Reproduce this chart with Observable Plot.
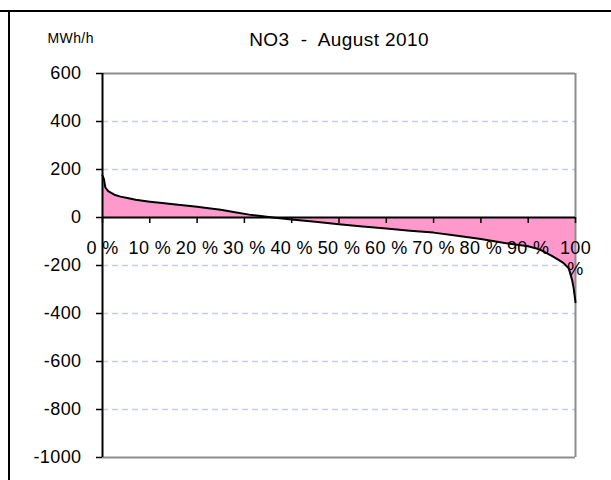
<!DOCTYPE html>
<html>
<head>
<meta charset="utf-8">
<script src="https://cdn.jsdelivr.net/npm/d3@7"></script>
<script src="https://cdn.jsdelivr.net/npm/@observablehq/plot@0.6"></script>
<style>
  html, body { margin: 0; padding: 0; background: #fff; }
  #wrap { position: relative; width: 611px; height: 480px; overflow: hidden; }
  #wrap svg { position: absolute; left: 0; top: 0; }
  #wrap svg text { letter-spacing: 0.4px; }
  .hline { position: absolute; left: 0; top: 10px; width: 611px; height: 2px; background: #000; }
  .vline { position: absolute; left: 8px; top: 10px; width: 2px; height: 470px; background: #000; }
</style>
</head>
<body>
<div id="wrap"><div class="hline"></div><div class="vline"></div></div>
<script>
// Duration curve, NO3 August 2010 (share of hours, %) vs MWh/h
const pct = [0, 0.3, 0.6, 1.2, 2.5, 3.8, 5.5, 7, 10, 12.6, 15, 17.5, 20, 22, 25, 28, 31, 33, 36, 40, 45, 50, 55, 60, 65, 70, 75, 80, 85, 90, 92.5, 95, 96.5, 97.5, 98.6, 99.3, 99.6, 100];
const mwh = [175, 160, 125, 110, 95, 87, 80, 74, 66, 60, 55, 50, 45, 40, 32, 22, 12, 7, 0, -8, -18, -28, -37, -46, -55, -63, -76, -90, -106, -120, -134, -160, -178, -190, -213, -262, -293, -353];

const yTicks = [600, 400, 200, 0, -200, -400, -600, -800, -1000];
const gridTicks = [400, 200, -200, -400, -600, -800];
const xTicks = [0, 10, 20, 30, 40, 50, 60, 70, 80, 90, 100];
const xLabels = ["0 %", "10 %", "20 %", "30 %", "40 %", "50 %", "60 %", "70 %", "80 %", "90 %", "100\n%"];
const title = "NO3  -  August 2010";
const unit = "MWh/h";

const data = pct.map((p, i) => ({p, v: mwh[i]}));
const font = "'Liberation Sans', Arial, sans-serif";

const chart = Plot.plot({
  width: 611,
  height: 480,
  marginLeft: 102,
  marginRight: 36,
  marginTop: 73,
  marginBottom: 23,
  style: {fontFamily: font, fontSize: "18px", color: "#000", background: "transparent"},
  x: {domain: [0, 100], axis: null},
  y: {domain: [-1000, 600], axis: null},
  marks: [
    Plot.ruleY(gridTicks, {stroke: "#c8c8ff", strokeWidth: 1.5, strokeDasharray: "6,4"}),
    Plot.areaY(data, {x: "p", y: "v", fill: "#ff99cc"}),
    Plot.ruleY([600, -1000], {stroke: "#8c8c8c", strokeWidth: 2}),
    Plot.ruleX([100], {stroke: "#8c8c8c", strokeWidth: 2}),
    Plot.line(data, {x: "p", y: "v", stroke: "#000", strokeWidth: 2}),
    Plot.ruleY([0], {stroke: "#000", strokeWidth: 2}),
    Plot.ruleX([0], {stroke: "#000", strokeWidth: 2}),
    Plot.ruleX(xTicks, {x: d => d, y1: () => 0, y2: () => 0, insetBottom: -6, stroke: "#000", strokeWidth: 1.5}),
    Plot.text(xTicks, {x: d => d, y: () => 0, text: (d, i) => xLabels[i], lineAnchor: "top", dy: 22, lineHeight: 1.15, fontSize: 18, fill: "#000"}),
    Plot.axisY({ticks: yTicks, label: null, tickFormat: d => String(d), tickSize: 6, tickPadding: 15, fontSize: 18, stroke: "#000", strokeWidth: 1.5, fill: "#000"}),
    Plot.text([title], {frameAnchor: "top", dy: -41, fontSize: 19, fill: "#000"}),
    Plot.text([unit], {frameAnchor: "top-left", textAnchor: "start", dx: -55, dy: -40, fontSize: 14, fill: "#000"})
  ]
});
document.getElementById("wrap").appendChild(chart);
</script>
</body>
</html>
